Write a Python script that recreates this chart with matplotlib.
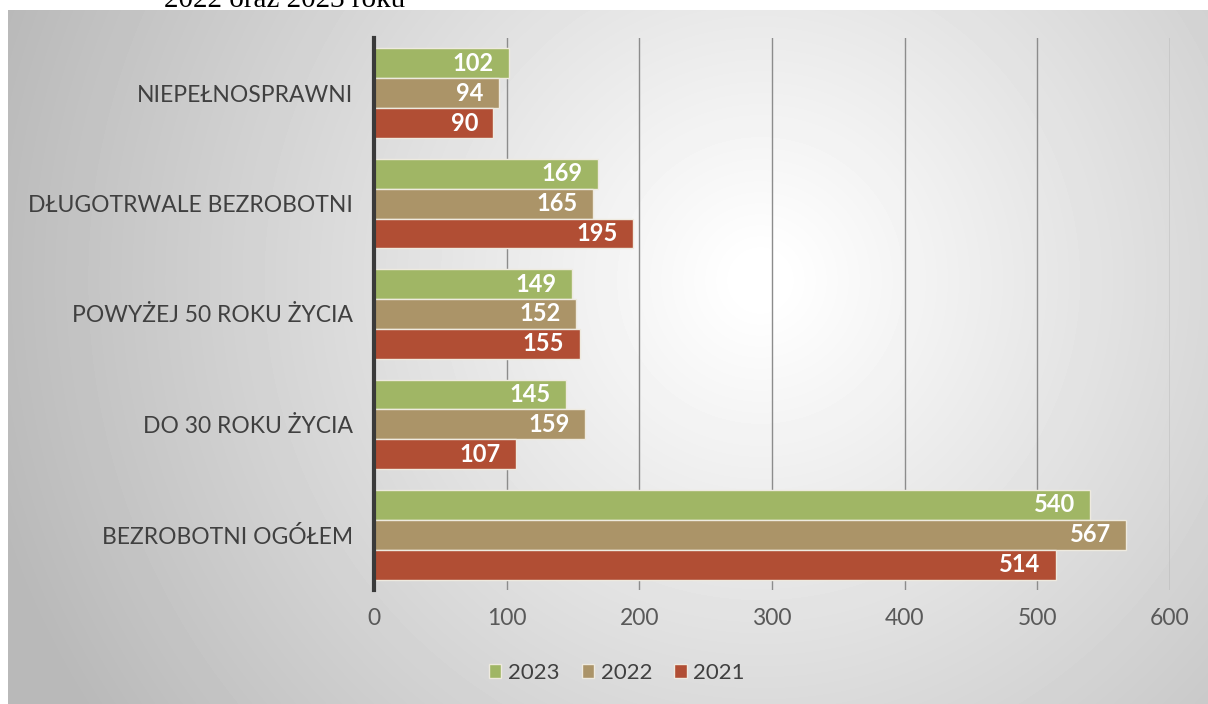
import numpy as np
import matplotlib.pyplot as plt

categories = ["BEZROBOTNI OGÓŁEM", "DO 30 ROKU ŻYCIA", "POWYŻEJ 50 ROKU ŻYCIA",
              "DŁUGOTRWALE BEZROBOTNI", "NIEPEŁNOSPRAWNI"]
v2023 = [540, 145, 149, 169, 102]
v2022 = [567, 159, 152, 165, 94]
v2021 = [514, 107, 155, 195, 90]
years = ["2023", "2022", "2021"]
colors = ["#a0b665", "#ab9468", "#b14e34"]

plt.rcParams['font.family'] = ['Lato', 'DejaVu Sans']

fig = plt.figure(figsize=(12.08, 7.04), dpi=100)
fig.patch.set_facecolor('white')

# background with radial gradient
bg = fig.add_axes([8/1208, 0, 1 - 8/1208, 694/704])
W, H = 1200, 694
xx, yy = np.meshgrid(np.arange(W) + 8, np.arange(H) + 10)
d = np.sqrt((xx - 760)**2 + (yy - 280)**2)
val = np.clip(257 - 66 * d / 730, 185, 255) / 255
bg.imshow(val, cmap='gray', vmin=0, vmax=1, aspect='auto', interpolation='bilinear')
bg.set_axis_off()

fig.text(164/1208, 1 - 7/704, "2022 oraz 2023 roku", family='Liberation Serif', fontsize=21,
         va='baseline', ha='left', color='black')

ax = fig.add_axes([374/1208, 1 - 590/704, (1170 - 374)/1208, (590 - 38)/704])
ax.patch.set_alpha(0)

y = np.arange(len(categories))
h = 0.27
series = [v2023, v2022, v2021]
offsets = [h, 0, -h]
for vals, off, col, lab in zip(series, offsets, colors, years):
    bars = ax.barh(y + off, vals, height=h, color=col, edgecolor='#eeeadf',
                   linewidth=1, label=lab, zorder=3)
    for b, v in zip(bars, vals):
        ax.annotate(str(v), (b.get_width(), b.get_y() + b.get_height() / 2),
                    xytext=(-11, 0), textcoords='offset points', ha='right', va='center',
                    color='white', fontsize=17, fontweight='bold', zorder=4)

ax.set_xlim(0, 600)
ax.set_ylim(-0.5, 4.5)
ax.set_xticks(range(0, 601, 100))
ax.set_yticks(y)
ax.set_yticklabels(categories, fontsize=16.5, color='#404040')
ax.tick_params(axis='x', labelsize=16.5, labelcolor='#595959', length=0, pad=13)
ax.tick_params(axis='y', length=0, pad=15)
ax.grid(axis='x', color='#8c8c8c', linewidth=1, zorder=1)
for s in ['top', 'right', 'bottom']:
    ax.spines[s].set_visible(False)
ax.spines['left'].set_color('#3a3a3a')
ax.spines['left'].set_linewidth(3)
ax.spines['left'].set_zorder(5)

leg = fig.legend(loc='center', bbox_to_anchor=(617/1208, 1 - 673/704), ncol=3,
                 frameon=False, fontsize=16, handlelength=0.55, handleheight=0.55,
                 handletextpad=0.3, columnspacing=1.0)
for t in leg.get_texts():
    t.set_color('#404040')

fig.savefig('out.png', dpi=100)
